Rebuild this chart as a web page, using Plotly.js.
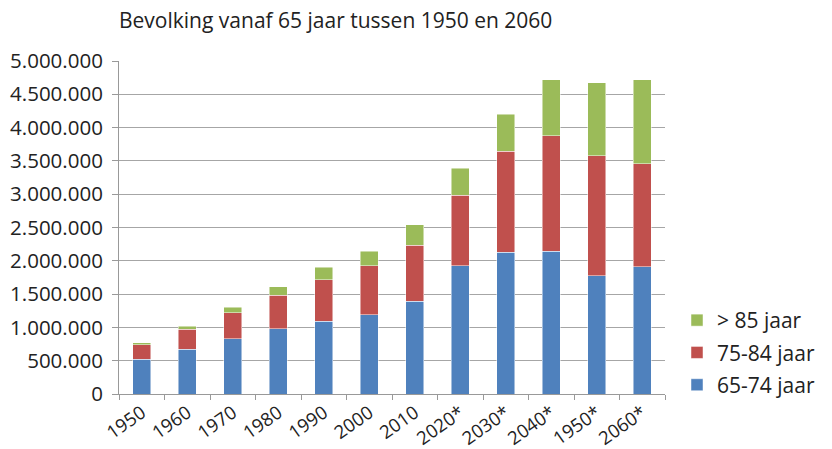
<!DOCTYPE html>
<html><head><meta charset="utf-8">
<script src="https://cdn.plot.ly/plotly-3.0.1.min.js"></script>
<style>body{margin:0;background:#fff}#c{width:832px;height:449px}</style>
</head><body><div id="c"></div>
<script>
const categories = ['1950','1960','1970','1980','1990','2000','2010','2020*','2030*','2040*','1950* ','2060*'];
const tickLabels = ['1950','1960','1970','1980','1990','2000','2010','2020*','2030*','2040*','1950*','2060*'];
const age65to74 = [520000,671000,831000,981000,1091000,1191000,1391000,1927000,2132000,2142000,1772000,1912000];
const age75to84 = [216000,300000,390000,505000,626000,731000,846000,1061000,1512000,1737000,1802000,1546000];
const age85plus = [30000,45000,85000,125000,185000,225000,301000,401000,555000,841000,1101000,1257000];
const yTicks = [0,500000,1000000,1500000,2000000,2500000,3000000,3500000,4000000,4500000,5000000];

const font = 'Open Sans, sans-serif';
const line = {color:'rgba(255,255,255,0.6)', width:0.8};
const data = [
  {type:'bar', name:'65-74 jaar', legendgroup:'a', legendrank:3, x:categories, y:age65to74, marker:{color:'#4F81BD', line:line}},
  {type:'bar', name:'75-84 jaar', legendgroup:'b', legendrank:2, x:categories, y:age75to84, marker:{color:'#C0504D', line:line}},
  {type:'bar', name:'> 85 jaar', legendgroup:'c', legendrank:1, x:categories, y:age85plus, marker:{color:'#9BBB59', line:line}}
];
const layout = {
  width:832, height:449,
  margin:{l:119, r:135, t:61, b:55},
  barmode:'stack', bargap:0.6,
  separators:',.',
  paper_bgcolor:'#fff', plot_bgcolor:'#fff',
  font:{family:font, size:20, color:'#222'},
  title:{text:'Bevolking vanaf 65 jaar tussen 1950 en 2060', x:119/832, xanchor:'left', y:0.955, yanchor:'middle', font:{family:font, size:21, color:'#222'}},
  xaxis:{type:'category', tickvals:categories, ticktext:tickLabels, tickangle:-35, ticks:'outside', tickson:'boundaries', ticklen:5, tickcolor:'#999', showline:true, linecolor:'#999', linewidth:1, showgrid:false, tickfont:{size:18.5}},
  yaxis:{range:[0,5000000], tickvals:yTicks, tickformat:',d', ticks:'outside', ticklen:6, tickcolor:'#999', ticklabelstandoff:5, showline:true, linecolor:'#999', linewidth:1, gridcolor:'#a6a6a6', gridwidth:1, zeroline:false, tickfont:{size:20.5}},
  legend:{traceorder:'grouped', x:1.022, xanchor:'left', y:-0.033, yanchor:'bottom', font:{size:21}, itemwidth:30, tracegroupgap:2, bgcolor:'rgba(0,0,0,0)'},
  showlegend:true
};
Plotly.newPlot('c', data, layout, {displayModeBar:false, staticPlot:true});
</script></body></html>
